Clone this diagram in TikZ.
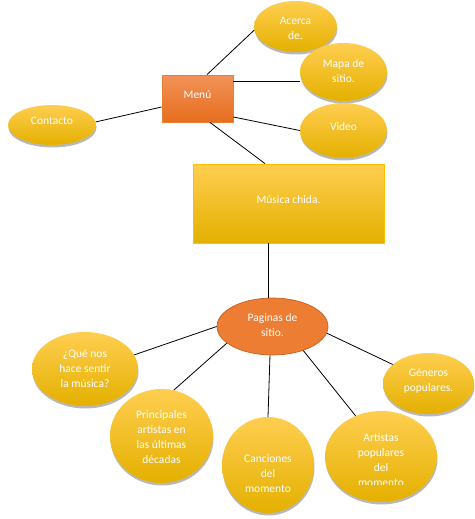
\documentclass[tikz,border=0pt]{standalone}
\usepackage{fontspec}
\setmainfont{Carlito}
\usetikzlibrary{shapes.geometric,shadows,calc}
\definecolor{ytop}{RGB}{255,206,80}
\definecolor{ymid}{RGB}{255,193,10}
\definecolor{ybot}{RGB}{228,176,0}
\definecolor{yedge}{RGB}{255,192,0}
\definecolor{otop}{RGB}{242,146,88}
\definecolor{obot}{RGB}{230,110,30}
\definecolor{oedge}{RGB}{237,125,49}
\definecolor{ofill}{RGB}{236,125,50}
\definecolor{odark}{RGB}{196,96,36}
\tikzset{
  ell/.style={ellipse, inner sep=0pt, top color=ytop, middle color=ymid, bottom color=ybot,
    drop shadow={shadow xshift=0.5pt, shadow yshift=-2.5pt, opacity=0.28, fill=black}},
  ybox/.style={rectangle, inner sep=0pt, top color=ytop, middle color=ymid, bottom color=ybot, draw=yedge, line width=0.8pt},
  obox/.style={rectangle, inner sep=0pt, top color=otop, bottom color=obot, draw=oedge, line width=0.8pt},
  oell/.style={ellipse, inner sep=0pt, fill=ofill, draw=odark, line width=0.7pt},
  txt/.style={text=white, align=center, inner sep=0pt, font=\fontsize{11.5}{15}\selectfont},
  link/.style={draw=black, line width=0.8pt}
}
\begin{document}
\begin{tikzpicture}[x=1pt,y=-1pt]
\useasboundingbox (0,0) rectangle (474,519);
% shapes
\node[obox, minimum width=71pt, minimum height=47pt] (menu) at (197.5,98.5) {};
\node[ell, minimum width=83pt, minimum height=51pt] (acerca) at (295.5,26.5) {};
\node[ell, minimum width=87pt, minimum height=58pt] (mapa) at (343.5,72) {};
\node[ell, minimum width=87pt, minimum height=55pt] (video) at (343.5,130.5) {};
\node[ell, minimum width=88pt, minimum height=40pt] (contacto) at (52,125) {};
\node[ybox, minimum width=191pt, minimum height=79pt] (musica) at (288.5,203.5) {};
\node[oell, minimum width=111pt, minimum height=57pt] (paginas) at (272.5,326.5) {};
\node[ell, minimum width=106pt, minimum height=74pt] (que) at (85,369) {};
\node[ell, minimum width=103pt, minimum height=94pt] (principales) at (161.5,436) {};
\node[ell, minimum width=92pt, minimum height=96pt] (canciones) at (268,465) {};
\node[ell, minimum width=112pt, minimum height=91pt] (artistas) at (381,456.5) {};
\node[ell, minimum width=91pt, minimum height=61pt] (generos) at (428.5,383.5) {};
% texts
\node[txt] at (197.5,94.5) {Menú};
\node[txt] at (295.5,28) {Acerca\\de.};
\node[txt] at (343.5,71.5) {Mapa de\\sitio.};
\node[txt] at (343.5,126.5) {Video};
\node[txt] at (52,120.5) {Contacto};
\node[txt] at (288.5,199.5) {Música chida.};
\node[txt] at (272.5,325.5) {Paginas de\\sitio.};
\node[txt] at (85,369) {¿Qué nos\\hace sentir\\la música?};
\node[txt] at (161.5,437.5) {Principales\\artistas en\\las últimas\\décadas};
\node[txt] at (268,473.5) {Canciones\\del\\momento};
\begin{scope}
\clip (325,411) rectangle (437,484);
\node[txt] at (381,460.5) {Artistas\\populares\\del\\momento};
\end{scope}
\node[txt] at (428.5,381) {Géneros\\populares.};
% connectors
\draw[link] ([xshift=9.5pt]menu.north) -- (acerca.185);
\draw[link] ([yshift=17.5pt]menu.east) -- ([yshift=17.5pt]menu.east -| mapa.west);
\draw[link] ([yshift=-18.5pt]menu.east) -- (video.west);
\draw[link] ([yshift=-8.5pt]menu.west) -- (contacto.4);
\draw[link] ([xshift=12.5pt]menu.south) -- ([xshift=-23.5pt]musica.north);
\draw[link] ([xshift=-20.5pt]musica.south) -- ([xshift=-20.5pt]musica.south |- paginas.north);
\draw[link] (paginas.180) -- (que.16);
\draw[link] (paginas.200) -- (principales.75);
\draw[link] (paginas.265) -- (canciones.north);
\draw[link] (paginas.-38) -- (artistas.122);
\draw[link] (paginas.-7) -- (generos.152);
\end{tikzpicture}
\end{document}
